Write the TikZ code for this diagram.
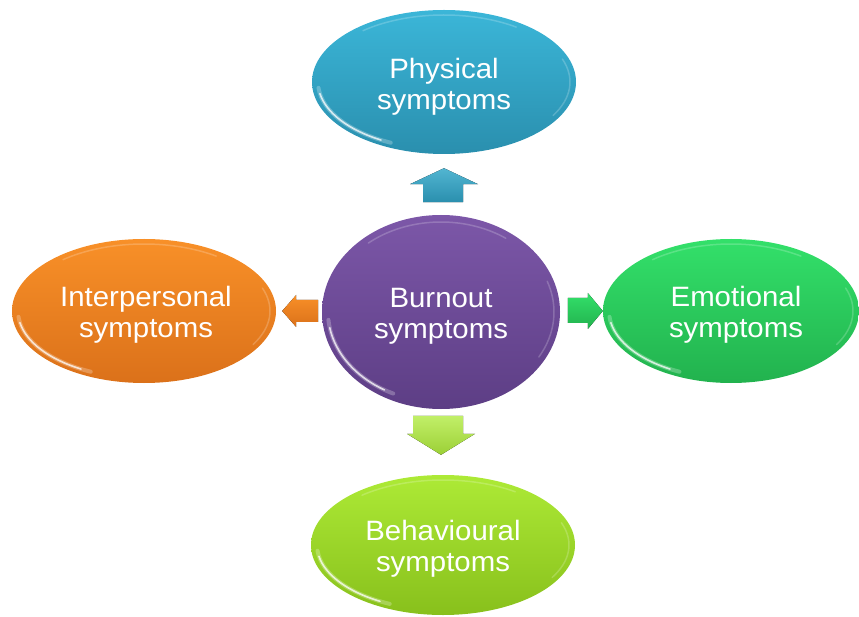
\documentclass[tikz,border=0pt]{standalone}
\usepackage{fontspec}
\setmainfont{Liberation Sans}
\newfontfamily\bubblefont[FakeStretch=1.05]{Liberation Sans}
\usetikzlibrary{shapes.geometric}

\definecolor{tealTop}{HTML}{3BB6D8}
\definecolor{tealBot}{HTML}{2A8FAE}
\definecolor{purpTop}{HTML}{7C57A8}
\definecolor{purpBot}{HTML}{5D3E85}
\definecolor{oranTop}{HTML}{F89028}
\definecolor{oranBot}{HTML}{DB711A}
\definecolor{greenTop}{HTML}{33E06A}
\definecolor{greenBot}{HTML}{22B24E}
\definecolor{limeTop}{HTML}{ADEA36}
\definecolor{limeBot}{HTML}{88C01C}

\tikzset{
  bubble/.style={ellipse, inner sep=0pt, text=white, align=center,
    font=\bubblefont\fontsize{28}{31}\selectfont},
  glosswide/.style={white, line width=4pt, opacity=0.25, line cap=round},
  gloss/.style={white, line width=1.6pt, opacity=0.75, line cap=round},
  rim/.style={white, line width=1.5pt, opacity=0.2, line cap=round},
  blockarrow/.style={line join=miter}
}

\begin{document}
\begin{tikzpicture}[x=1pt,y=-1pt]
\useasboundingbox (0,0) rectangle (859,617);

% ---- bubbles ----
\node[bubble, minimum width=264pt, minimum height=144pt,
      top color=tealTop, bottom color=tealBot] (phys) at (444,82) {};
\node[bubble, minimum width=238pt, minimum height=194pt,
      top color=purpTop, bottom color=purpBot] (burn) at (441,312) {};
\node[bubble, minimum width=264pt, minimum height=144pt,
      top color=oranTop, bottom color=oranBot] (inter) at (144,311) {};
\node[bubble, minimum width=256pt, minimum height=144pt,
      top color=greenTop, bottom color=greenBot] (emo) at (731,311) {};
\node[bubble, minimum width=264pt, minimum height=140pt,
      top color=limeTop, bottom color=limeBot] (behav) at (443,545) {};

% ---- glossy highlights ----
\foreach \n/\a/\b in {phys/126/67, inter/126/67, emo/122/67, behav/126/65, burn/113/90}{
  \draw[glosswide] (\n.center) ++(185:\a pt and \b pt) arc[start angle=185, end angle=245, x radius=\a pt, y radius=\b pt];
  \draw[gloss] (\n.center) ++(190:\a pt and \b pt) arc[start angle=190, end angle=240, x radius=\a pt, y radius=\b pt];
  \draw[rim] (\n.center) ++(55:\a pt and \b pt) arc[start angle=55, end angle=130, x radius=\a pt, y radius=\b pt];
  \draw[rim] (\n.center) ++(-30:\a pt and \b pt) arc[start angle=-30, end angle=20, x radius=\a pt, y radius=\b pt];
}

% ---- labels ----
\node[bubble] at ([yshift=-5pt]phys.center) {Physical\\symptoms};
\node[bubble] at ([yshift=-4pt]burn.center) {Burnout\\symptoms};
\node[bubble] at ([xshift=2pt,yshift=-4pt]inter.center) {Interpersonal\\symptoms};
\node[bubble] at ([xshift=5pt,yshift=-4pt]emo.center) {Emotional\\symptoms};
\node[bubble] at ([yshift=-4pt]behav.center) {Behavioural\\symptoms};

% ---- block arrows ----
\fill[blockarrow, top color=tealTop!80!white, bottom color=tealBot]
  (phys.south) ++(-21,48) coordinate (upA)
  -- ++(0,-18) -- ++(-13,0) -- ++(34,-16) -- ++(34,16) -- ++(-15,0) -- ++(0,18) -- cycle;
\fill[blockarrow, top color=oranTop, bottom color=oranBot]
  (inter.east) ++(6,0) coordinate (leftA)
  -- ++(14,-16) -- ++(0,5) -- ++(22,0) -- ++(0,22) -- ++(-22,0) -- ++(0,5) -- cycle;
\fill[blockarrow, top color=greenTop, bottom color=greenBot]
  (emo.west) ++(0,0) coordinate (rightA)
  -- ++(-15,-18) -- ++(0,5) -- ++(-20,0) -- ++(0,25) -- ++(20,0) -- ++(0,6) -- cycle;
\fill[blockarrow, top color=limeTop!75!white, bottom color=limeBot]
  (behav.north) ++(-2,-20) coordinate (downA)
  -- ++(-34,-21) -- ++(6,0) -- ++(0,-18) -- ++(50,0) -- ++(0,18) -- ++(12,0) -- cycle;
\end{tikzpicture}
\end{document}
